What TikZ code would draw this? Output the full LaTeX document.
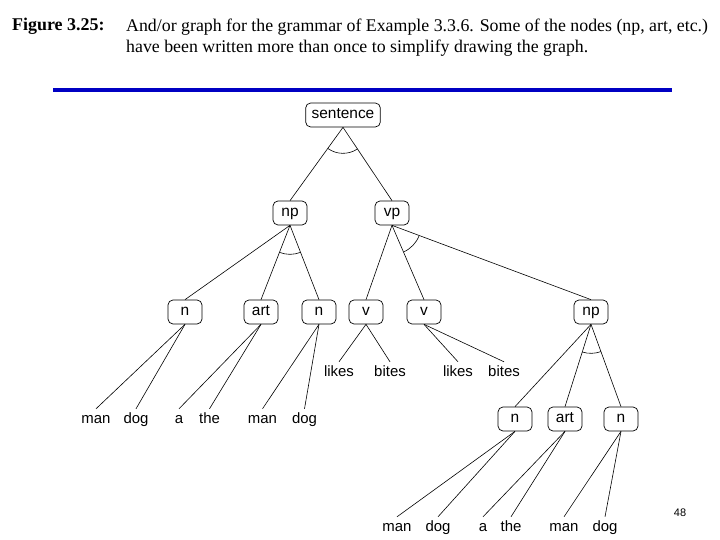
\documentclass[tikz,border=0pt]{standalone}
\usepackage{fontspec}
\setmainfont{Liberation Serif}
\newfontfamily\helv{Liberation Sans}
\usepackage{xcolor}
\usetikzlibrary{angles}
\definecolor{ruleblue}{RGB}{0,0,195}

\begin{document}
\begin{tikzpicture}[x=1bp,y=1bp,
	box/.style={draw,rounded corners=5bp,line width=0.7bp,minimum width=34bp,minimum height=24bp,inner xsep=6bp,inner ysep=0bp,text height=10bp,text depth=3bp,font=\helv\fontsize{15.5}{15.5}\selectfont},
	leaf/.style={anchor=base,inner xsep=1bp,inner ysep=5bp,text height=10bp,text depth=3bp,font=\helv\fontsize{15}{15}\selectfont},
	edge/.style={line width=0.6bp},
	andarc/.style={draw,line width=0.6bp,angle radius=29bp}]
	\useasboundingbox (0,0) rectangle (720,540);
	\fill[white] (0,0) rectangle (720,540);
	% caption and rule
	\node[anchor=base west,inner sep=0pt,font=\fontsize{18}{22}\selectfont] (fig) at (12,509) {\bfseries Figure 3.25:};
	\node[anchor=base west,inner sep=0pt,align=left,font=\fontsize{17.9}{22}\selectfont] (caption) at (126,487) {And/or graph for the grammar of Example 3.3.6. Some of the nodes (np, art, etc.)\\have been written more than once to simplify drawing the graph.};
	\draw[ruleblue,line width=4bp] (53,450) -- (672,450);
	% inner nodes
	\node[box] (sentence) at (343,425) {sentence};
	\node[box] (np) at (290,327) {np};
	\node[box] (vp) at (392,327) {vp};
	\node[box] (n1) at (185,228) {n};
	\node[box] (art1) at (261,228) {art};
	\node[box] (n2) at (319,228) {n};
	\node[box] (v1) at (366,228) {v};
	\node[box] (v2) at (424,228) {v};
	\node[box] (np2) at (591,228) {np};
	\node[box] (n3) at (515,121) {n};
	\node[box] (art2) at (565,121) {art};
	\node[box] (n4) at (621,121) {n};
	% words
	\node[leaf] (man1) at (96,116) {man};
	\node[leaf] (dog1) at (136,116) {dog};
	\node[leaf] (a1) at (179,116) {a};
	\node[leaf] (the1) at (209.5,116) {the};
	\node[leaf] (man2) at (262.5,116) {man};
	\node[leaf] (dog2) at (304.5,116) {dog};
	\node[leaf] (likes1) at (339,163) {likes};
	\node[leaf] (bites1) at (390,163) {bites};
	\node[leaf] (likes2) at (458,163) {likes};
	\node[leaf] (bites2) at (504,163) {bites};
	\node[leaf] (man3) at (397,8) {man};
	\node[leaf] (dog3) at (438,8) {dog};
	\node[leaf] (a2) at (483,8) {a};
	\node[leaf] (the2) at (511,8) {the};
	\node[leaf] (man4) at (564,8) {man};
	\node[leaf] (dog4) at (605,8) {dog};
	\node[font=\helv\fontsize{11}{11}\selectfont] (pagenum) at (680,27) {48};
	% edges
	\draw[edge] (sentence.south) -- (np.north);
	\draw[edge] (sentence.south) -- (vp.north);
	\draw[edge] (np.south) -- (n1.north);
	\draw[edge] (np.south) -- (art1.north);
	\draw[edge] (np.south) -- (n2.north);
	\draw[edge] (vp.south) -- (v1.north);
	\draw[edge] (vp.south) -- (v2.north);
	\draw[edge] (vp.south) -- (np2.north);
	\draw[edge] (np2.south) -- (n3.north);
	\draw[edge] (np2.south) -- (art2.north);
	\draw[edge] (np2.south) -- (n4.north);
	\draw[edge] (n1.south) -- (man1.north);
	\draw[edge] (n1.south) -- (dog1.north);
	\draw[edge] (art1.south) -- (a1.north);
	\draw[edge] (art1.south) -- (the1.north);
	\draw[edge] (n2.south) -- (man2.north);
	\draw[edge] (n2.south) -- (dog2.north);
	\draw[edge] (v1.south) -- (likes1.north);
	\draw[edge] (v1.south) -- (bites1.north);
	\draw[edge] (v2.south) -- (likes2.north);
	\draw[edge] (v2.south) -- (bites2.north);
	\draw[edge] (n3.south) -- (man3.north);
	\draw[edge] (n3.south) -- (dog3.north);
	\draw[edge] (art2.south) -- (a2.north);
	\draw[edge] (art2.south) -- (the2.north);
	\draw[edge] (n4.south) -- (man4.north);
	\draw[edge] (n4.south) -- (dog4.north);
	% and-arcs
	\coordinate (sB) at (sentence.south);
	\coordinate (npT) at (np.north);
	\coordinate (vpT) at (vp.north);
	\coordinate (npB) at (np.south);
	\coordinate (art1T) at (art1.north);
	\coordinate (n2T) at (n2.north);
	\coordinate (vpB) at (vp.south);
	\coordinate (v2T) at (v2.north);
	\coordinate (np2T) at (np2.north);
	\coordinate (np2B) at (np2.south);
	\coordinate (art2T) at (art2.north);
	\coordinate (n4T) at (n4.north);
	\pic[andarc,angle radius=26bp] {angle = npT--sB--vpT};
	\pic[andarc] {angle = art1T--npB--n2T};
	\pic[andarc] {angle = v2T--vpB--np2T};
	\pic[andarc] {angle = art2T--np2B--n4T};
\end{tikzpicture}
\end{document}
